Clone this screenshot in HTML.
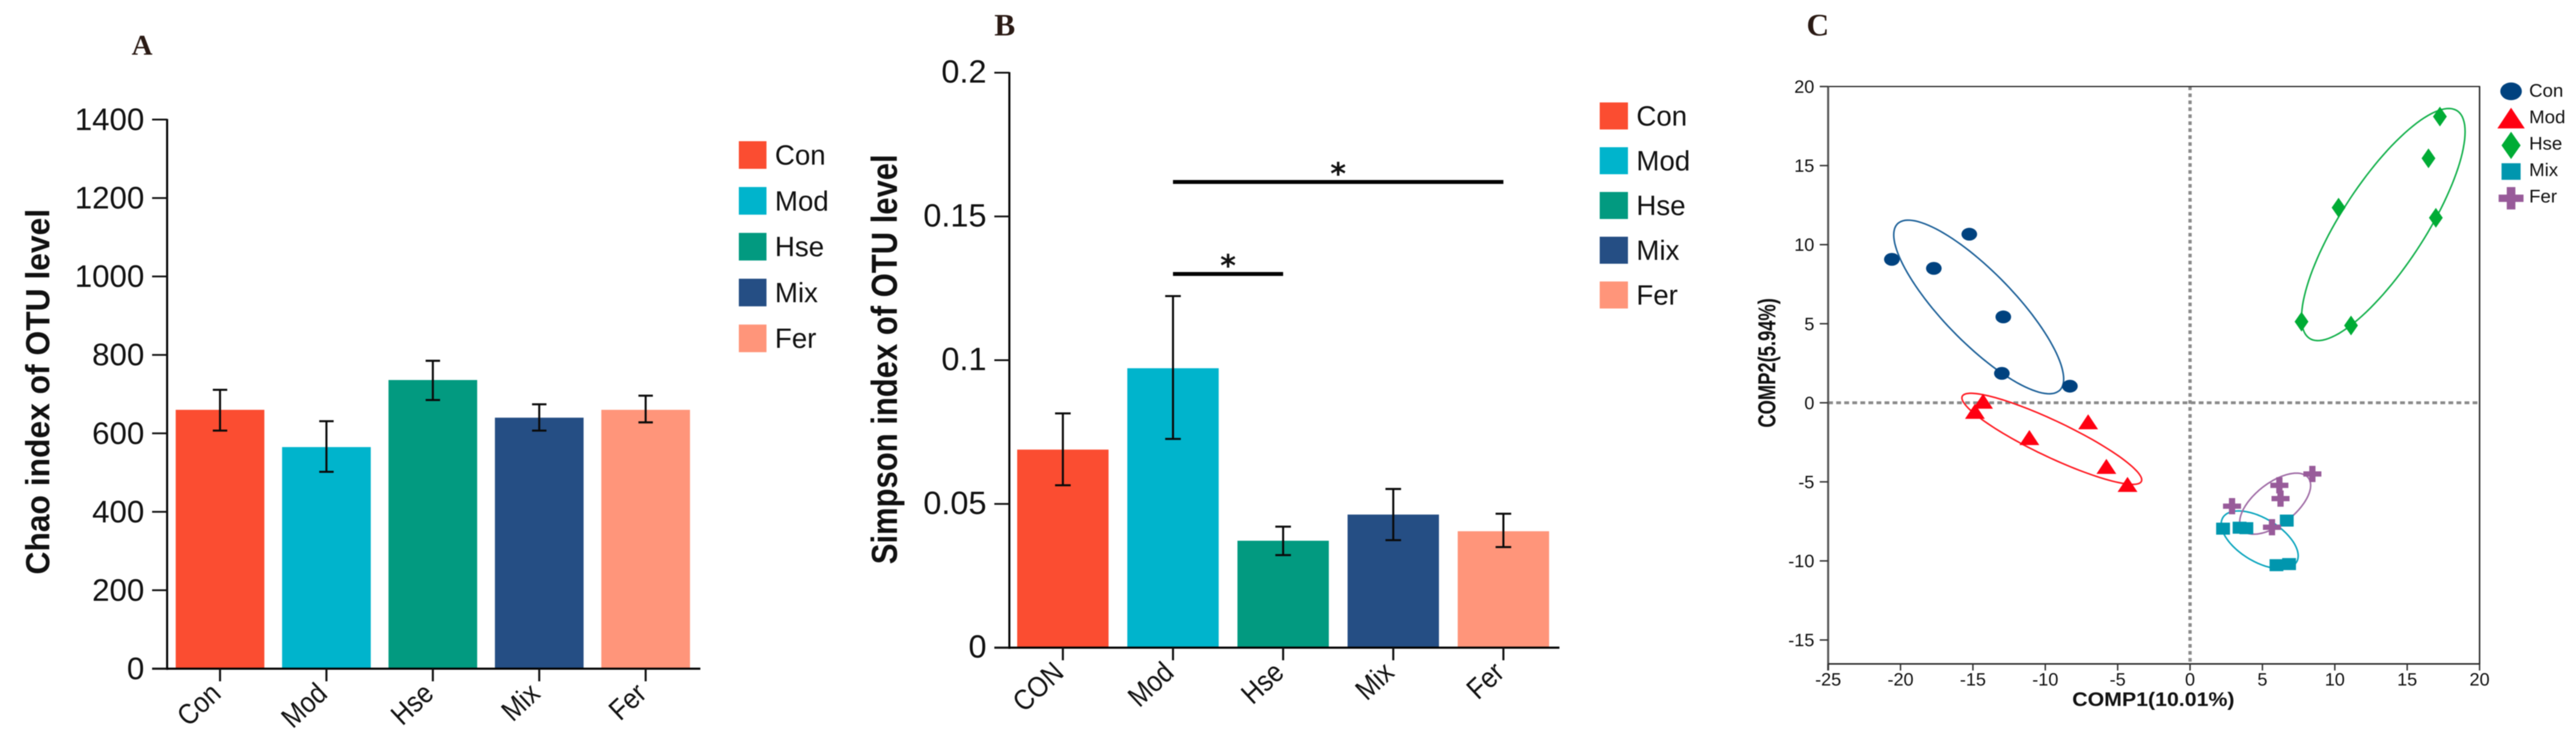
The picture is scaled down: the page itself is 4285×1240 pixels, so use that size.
<!DOCTYPE html>
<html lang="en">
<head>
<meta charset="utf-8">
<title>OTU diversity indices and PLS-DA plot</title>
<style>
html,body{margin:0;padding:0;background:#fff;width:4285px;height:1240px;overflow:hidden}
svg{display:block;filter:blur(0.7px)}
text{font-family:"Liberation Sans",Arial,sans-serif;fill:#111}
.panel{font-family:"Liberation Serif","Times New Roman",serif;font-weight:bold;fill:#2a1a14}
</style>
</head>
<body>
<svg id="figure" xmlns="http://www.w3.org/2000/svg" width="4285" height="1240" viewBox="0 0 4285 1240">
  <rect x="0" y="0" width="4285" height="1240" fill="#fff"/>
  <text class="panel" x="219" y="91" font-size="48">A</text>
  <text class="panel" x="1654" y="59" font-size="52">B</text>
  <text class="panel" x="3005" y="59" font-size="52">C</text>
  <g id="chart-a"></g>
  <g id="chart-b"></g>
  <g id="chart-c"></g>
</svg>
<script>
// ---------- Panel A data ----------
const chaoCategories = ['Con', 'Mod', 'Hse', 'Mix', 'Fer'];
const chaoValues = [660, 565, 736, 640, 660];
const chaoErrLow = [607, 502, 685, 607, 628];
const chaoErrHigh = [711, 631, 785, 674, 696];
const chaoTicks = [0, 200, 400, 600, 800, 1000, 1200, 1400];

// ---------- Panel B data ----------
const simpsonCategories = ['CON', 'Mod', 'Hse', 'Mix', 'Fer'];
const simpsonValues = [0.0689, 0.0972, 0.0372, 0.0463, 0.0405];
const simpsonErrLow = [0.0565, 0.0726, 0.0322, 0.0374, 0.0350];
const simpsonErrHigh = [0.0815, 0.1223, 0.0421, 0.0552, 0.0466];
const simpsonTicks = [0, 0.05, 0.1, 0.15, 0.2];
const simpsonSigFrom = [1, 1];
const simpsonSigTo = [2, 4];
const simpsonSigLevel = [0.13, 0.162];

// ---------- Shared legend ----------
const legendLabels = ['Con', 'Mod', 'Hse', 'Mix', 'Fer'];
const barColors = ['#FB4D31', '#00B4CC', '#029A80', '#254E84', '#FF957A'];

// ---------- Panel C data ----------
const compXTicks = [-25, -20, -15, -10, -5, 0, 5, 10, 15, 20];
const compYTicks = [-15, -10, -5, 0, 5, 10, 15, 20];
const conX = [-20.6, -17.7, -15.25, -12.9, -13.0, -8.3];
const conY = [9.07, 8.5, 10.66, 5.43, 1.86, 1.05];
const modX = [-14.3, -14.86, -11.1, -7.04, -5.78, -4.32];
const modY = [0.1, -0.54, -2.2, -1.2, -4.02, -5.16];
const hseX = [17.26, 16.47, 10.26, 16.98, 7.7, 11.12];
const hseY = [18.1, 15.46, 12.34, 11.7, 5.13, 4.89];
const mixX = [2.28, 3.42, 3.89, 6.68, 5.97, 6.84];
const mixY = [-7.96, -7.9, -7.93, -7.45, -10.27, -10.2];
const ferX = [8.45, 6.17, 6.25, 2.9, 5.66];
const ferY = [-4.5, -5.22, -6.06, -6.54, -7.87];
// confidence ellipses: centre, half-range and correlation, in data units
const ellipseCx = [-14.6, -9.55, 13.35, 4.81, 5.88];
const ellipseCy = [6.06, -2.28, 11.27, -8.67, -6.38];
const ellipseRx = [5.87, 6.21, 5.65, 2.66, 2.45];
const ellipseRy = [5.49, 2.88, 7.34, 1.83, 1.93];
const ellipseRho = [-0.83, -0.9, 0.8, -0.55, 0.6];

const NS = 'http://www.w3.org/2000/svg';
function make(parent, tag, attrs, txt) {
  const el = document.createElementNS(NS, tag);
  for (const k in attrs) el.setAttribute(k, attrs[k]);
  if (txt !== undefined) el.textContent = txt;
  parent.appendChild(el);
  return el;
}

function drawBars(root, o) {
  const yScale = v => o.y0 - (v / o.yMax) * (o.y0 - o.yTop);
  const xScale = i => o.x0 + i * o.step;
  // bars
  o.values.forEach((v, i) => {
    const bar = make(root, 'rect', {x: xScale(i) - o.barW / 2, y: yScale(v), width: o.barW, height: o.y0 - yScale(v), fill: barColors[i]});
    
    
  });
  // axes
  const yAxis = make(root, 'line', {x1: o.axisX, x2: o.axisX, y1: o.yTop - 1, y2: o.y0 + 2, stroke: '#000', 'stroke-width': 3.4});
  
  
  const xAxis = make(root, 'line', {x1: o.axisX - 25, x2: o.axisEnd, y1: o.y0, y2: o.y0, stroke: '#000', 'stroke-width': 3.4});
  
  
  // y ticks
  o.ticks.forEach(t => {
    const tk = make(root, 'line', {x1: o.axisX - 25, x2: o.axisX, y1: yScale(t), y2: yScale(t), stroke: '#111', 'stroke-width': 3});
    
    
    const lb = make(root, 'text', {x: o.labelRight, y: yScale(t) + o.tickDrop, 'text-anchor': 'end', 'font-size': o.tickFont}, String(t));
    
    
  });
  // x ticks and labels
  o.cats.forEach((c, i) => {
    const tk = make(root, 'line', {x1: xScale(i), x2: xScale(i), y1: o.y0, y2: o.y0 + 21, stroke: '#111', 'stroke-width': 3.4});
    
    
    const ax = xScale(i) + 4, ay = o.y0 + 45;
    const lb = make(root, 'text', {x: 0, y: 0, 'text-anchor': 'end', 'font-size': 48, transform: 'translate(' + ax + ' ' + ay + ') rotate(-43) scale(0.88 1)'}, c);
    
    
  });
  // error bars
  o.values.forEach((v, i) => {
    const cx = xScale(i), a = yScale(o.low[i]), b = yScale(o.high[i]);
    const eb = make(root, 'path', {d: 'M' + (cx - o.cap) + ' ' + a + 'H' + (cx + o.cap) + 'M' + (cx - o.cap) + ' ' + b + 'H' + (cx + o.cap) + 'M' + cx + ' ' + a + 'V' + b, stroke: '#0a0a0a', 'stroke-width': 3.4, fill: 'none'});
    
    
  });
  // legend
  legendLabels.forEach((l, i) => {
    const cy = o.legTop + i * o.legStep;
    const sw = make(root, 'rect', {x: o.legX, y: cy - o.legH / 2, width: o.legW, height: o.legH, fill: barColors[i]});
    
    
    const tx = make(root, 'text', {x: o.legX + o.legW + 14, y: cy + 16, 'font-size': 46}, l);
    
    
  });
  // y title
  const tt = make(root, 'text', {x: 0, y: 0, 'text-anchor': 'middle', 'font-size': o.titleFont, 'font-weight': 'bold', transform: 'translate(' + o.titleX + ' ' + o.titleY + ') rotate(-90) scale(' + o.titleStretch + ' 1)'}, o.title);
  
  
  return {xScale, yScale};
}

// ---------- Draw panel A ----------
drawBars(document.getElementById('chart-a'), {
  cats: chaoCategories, values: chaoValues, low: chaoErrLow, high: chaoErrHigh, ticks: chaoTicks, yMax: 1400,
  x0: 366, step: 177, barW: 147.5, y0: 1113, yTop: 199, axisX: 278, axisEnd: 1165, labelRight: 240, tickFont: 52, tickDrop: 17.5, cap: 12,
  legX: 1229, legW: 46, legH: 46, legTop: 258, legStep: 76.3,
  title: 'Chao index of OTU level', titleX: 82, titleY: 652, titleFont: 56, titleStretch: 0.945
});

// ---------- Draw panel B ----------
const rootB = document.getElementById('chart-b');
const scalesB = drawBars(rootB, {
  cats: simpsonCategories, values: simpsonValues, low: simpsonErrLow, high: simpsonErrHigh, ticks: simpsonTicks, yMax: 0.2,
  x0: 1768, step: 183.2, barW: 152, y0: 1078, yTop: 121, axisX: 1679, axisEnd: 2594, labelRight: 1641, tickFont: 54, tickDrop: 16.5, cap: 13,
  legX: 2661, legW: 47, legH: 45, legTop: 193, legStep: 74.5,
  title: 'Simpson index of OTU level', titleX: 1492, titleY: 598, titleFont: 60, titleStretch: 0.86
});
simpsonSigLevel.forEach((lv, i) => {
  const xa = scalesB.xScale(simpsonSigFrom[i]), xb = scalesB.xScale(simpsonSigTo[i]), yy = scalesB.yScale(lv);
  const ln = make(rootB, 'line', {x1: xa, x2: xb, y1: yy, y2: yy, stroke: '#000', 'stroke-width': 6.5});
  
  
  const st = make(rootB, 'text', {x: (xa + xb) / 2, y: yy + 3.5, 'text-anchor': 'middle', 'font-size': 50, 'font-weight': 'bold', style: 'font-family:"DejaVu Sans",sans-serif'}, '*');
  
  
});

// ---------- Draw panel C ----------
const rootC = document.getElementById('chart-c');
const xC = v => 3643 + v * 24.08;
const yC = v => 670.4 - v * 26.32;
const plotL = xC(-25), plotR = xC(20), plotT = yC(20), plotB = 1105;

const compColors = ['#00427F', '#FF0011', '#00AC35', '#0096AE', '#985B9A'];
const ellipseColors = ['#1C6098', '#FF1A22', '#12B04A', '#0AA5BD', '#A06CA6'];

function glyph(parent, kind, cx, cy, k, fill) {
  // k = marker scale; 1 is a data marker, legend markers are larger
  if (kind === 0) return make(parent, 'ellipse', {cx: cx, cy: cy, rx: 13 * k, ry: 10.7 * k, fill: fill});
  if (kind === 1) return make(parent, 'polygon', {points: (cx - 16.5 * k) + ',' + (cy + 12.5 * k) + ' ' + (cx + 16.5 * k) + ',' + (cy + 12.5 * k) + ' ' + cx + ',' + (cy - 12.5 * k), fill: fill});
  if (kind === 2) return make(parent, 'polygon', {points: cx + ',' + (cy - 16.5 * k) + ' ' + (cx + 11.5 * k) + ',' + cy + ' ' + cx + ',' + (cy + 16.5 * k) + ' ' + (cx - 11.5 * k) + ',' + cy, fill: fill});
  if (kind === 3) return make(parent, 'rect', {x: cx - 11.5 * k, y: cy - 10 * k, width: 23 * k, height: 20 * k, fill: fill});
  const w = 15 * k, h = 13.5 * k, a = 5.2 * k, b = 4.4 * k;
  return make(parent, 'path', {d: 'M' + (cx - a) + ' ' + (cy - h) + 'H' + (cx + a) + 'V' + (cy - b) + 'H' + (cx + w) + 'V' + (cy + b) + 'H' + (cx + a) + 'V' + (cy + h) + 'H' + (cx - a) + 'V' + (cy + b) + 'H' + (cx - w) + 'V' + (cy - b) + 'H' + (cx - a) + 'Z', fill: fill});
}

// dotted zero lines
const zeroH = make(rootC, 'line', {x1: plotL, x2: 4122, y1: yC(0), y2: yC(0), stroke: '#8a8a8a', 'stroke-width': 4.8, 'stroke-dasharray': '8 5.4'});


const zeroV = make(rootC, 'line', {x1: xC(0), x2: xC(0), y1: plotT, y2: plotB, stroke: '#8a8a8a', 'stroke-width': 5.5, 'stroke-dasharray': '6 5.6'});



// frame
const frameTop = make(rootC, 'line', {x1: plotL, x2: plotR + 1, y1: plotT, y2: plotT, stroke: '#222', 'stroke-width': 2});


const frameRight = make(rootC, 'line', {x1: plotR, x2: plotR, y1: plotT, y2: plotB, stroke: '#222', 'stroke-width': 2.4});


const axisL = make(rootC, 'line', {x1: plotL, x2: plotL, y1: plotT, y2: plotB + 11, stroke: '#555', 'stroke-width': 3.4});


const axisB = make(rootC, 'line', {x1: plotL, x2: plotR + 1, y1: plotB, y2: plotB, stroke: '#222', 'stroke-width': 2.4});



compXTicks.forEach(t => {
  const tk = make(rootC, 'line', {x1: xC(t), x2: xC(t), y1: plotB, y2: plotB + 11, stroke: '#333', 'stroke-width': 2.4});
  
  
  const lb = make(rootC, 'text', {x: xC(t), y: 1141, 'text-anchor': 'middle', 'font-size': 30}, String(t));
  
  
});
compYTicks.forEach(t => {
  const tk = make(rootC, 'line', {x1: plotL - 14, x2: plotL, y1: yC(t), y2: yC(t), stroke: '#333', 'stroke-width': 2.4});
  
  
  const lb = make(rootC, 'text', {x: 3018, y: yC(t) + 10.5, 'text-anchor': 'end', 'font-size': 30}, String(t));
  
  
});

// ellipses
ellipseCx.forEach((c, i) => {
  const pts = [];
  const s = Math.sqrt(1 - ellipseRho[i] * ellipseRho[i]);
  for (let a = 0; a < 360; a += 3) {
    const t = a * Math.PI / 180;
    const dx = ellipseRx[i] * Math.cos(t);
    const dy = ellipseRy[i] * (ellipseRho[i] * Math.cos(t) + s * Math.sin(t));
    pts.push(xC(c + dx).toFixed(1) + ',' + yC(ellipseCy[i] + dy).toFixed(1));
  }
  const el = make(rootC, 'polygon', {points: pts.join(' '), fill: 'none', stroke: ellipseColors[i], 'stroke-width': 2.6});
  
  
});

// points
const seriesX = [conX, modX, hseX, mixX, ferX];
const seriesY = [conY, modY, hseY, mixY, ferY];
seriesX.forEach((xs, s) => {
  xs.forEach((v, i) => {
    const p = glyph(rootC, s, xC(v), yC(seriesY[s][i]), 1, compColors[s]);
    
    
  });
});

// legend
const legendGlyphY = [152, 196.5, 242, 285.5, 330];
legendLabels.forEach((l, i) => {
  const g = glyph(rootC, i, 4177, legendGlyphY[i], 1.38, compColors[i]);
  
  
  const t = make(rootC, 'text', {x: 4207, y: 161 + i * 44, 'font-size': 31}, l);
  
  
});

// titles
const xTitle = make(rootC, 'text', {x: 0, y: 0, 'font-size': 32, 'font-weight': 'bold', transform: 'translate(3447 1175) scale(1.108 1)'}, 'COMP1(10.01%)');


const yTitle = make(rootC, 'text', {x: 0, y: 0, 'text-anchor': 'middle', 'font-size': 41, 'font-weight': 'bold', transform: 'translate(2953 604) rotate(-90) scale(0.745 1)'}, 'COMP2(5.94%)');


</script>
</body>
</html>
